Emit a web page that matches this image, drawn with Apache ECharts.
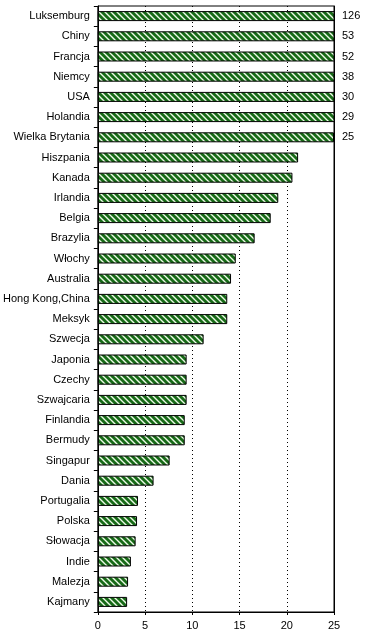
<!DOCTYPE html>
<html><head><meta charset="utf-8">
<script src="https://cdn.jsdelivr.net/npm/echarts@6/dist/echarts.min.js"></script>
<style>html,body{margin:0;padding:0;background:#fff}#c{width:367px;height:639px}</style>
</head><body><div id="c"></div>
<script>
var categories = ["Luksemburg","Chiny","Francja","Niemcy","USA","Holandia","Wielka Brytania","Hiszpania","Kanada","Irlandia","Belgia","Brazylia","Włochy","Australia","Hong Kong,China","Meksyk","Szwecja","Japonia","Czechy","Szwajcaria","Finlandia","Bermudy","Singapur","Dania","Portugalia","Polska","Słowacja","Indie","Malezja","Kajmany"];
var values = [126,53,52,38,30,29,25,21.2,20.6,19.1,18.3,16.6,14.6,14.1,13.7,13.7,11.2,9.4,9.4,9.4,9.2,9.2,7.6,5.9,4.25,4.15,4.0,3.5,3.2,3.1];
var valueLabels = ["126","53","52","38","30","29","25","","","","","","","","","","","","","","","","","","","","","","",""];
var xTicks = {min:0, max:25, interval:5};

var pc = document.createElement('canvas');
pc.width = 6; pc.height = 6;
var g = pc.getContext('2d');
g.fillStyle = '#eefbe8'; g.fillRect(0,0,6,6);
g.strokeStyle = '#176a17'; g.lineWidth = 2.9;
for (var k=-1;k<=1;k++){ g.beginPath(); g.moveTo(k*6-1,-1); g.lineTo(k*6+7,7); g.stroke(); }

var chart = echarts.init(document.getElementById('c'));
var font = 'Liberation Sans, Arial, sans-serif';
chart.setOption({
  animation:false,
  grid:{left:97,right:33,top:6,bottom:27,show:true,borderColor:'#000',borderWidth:1},
  xAxis:{type:'value',min:xTicks.min,max:xTicks.max,interval:xTicks.interval,
    axisLine:{show:true,lineStyle:{color:'#000'}},
    axisTick:{show:true,length:3,lineStyle:{color:'#000'}},
    axisLabel:{color:'#000',fontSize:11,fontFamily:font,margin:8},
    splitLine:{show:true,lineStyle:{color:'#000',type:[1,3]}}},
  yAxis:[{type:'category',data:categories,inverse:true,
    axisLine:{show:true,lineStyle:{color:'#000'}},
    axisTick:{show:true,length:4,lineStyle:{color:'#000'}},
    axisLabel:{color:'#000',fontSize:11,fontFamily:font,margin:8},
    splitLine:{show:false}},
   {type:'category',data:valueLabels,inverse:true,position:'right',
    axisLine:{show:true,lineStyle:{color:'#000'}},
    axisTick:{show:false},
    axisLabel:{color:'#000',fontSize:11,fontFamily:font,margin:8},
    splitLine:{show:false}}],
  series:[{type:'bar',data:values,barWidth:10,clip:true,
    itemStyle:{color:{image:pc,repeat:'repeat'},borderColor:'#000',borderWidth:1}}]
});
</script></body></html>
